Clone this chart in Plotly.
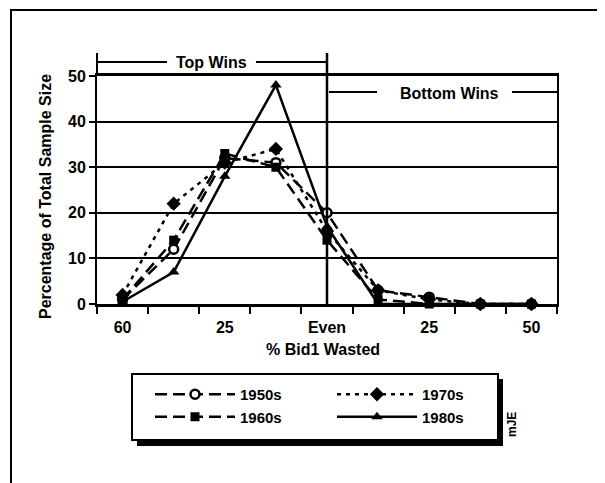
import plotly.graph_objects as go

# ---- data ----
categories = ["60", "", "25", "", "Even", "", "25", "", "50"]
label_positions = [0, 2, 4, 6, 8]
tick_labels = ["60", "25", "Even", "25", "50"]

s1950 = [1, 12, 32, 31, 20, 3, 1.5, 0, 0]
s1960 = [1, 14, 33, 30, 14, 1, 0, 0, 0]
s1970 = [2, 22, 31, 34, 16, 3, 1, 0, 0]
s1980 = [0.5, 7, 28, 48, 17, 0, 0, 0, 0]

y_ticks = [0, 10, 20, 30, 40, 50]

FONT = "Liberation Sans, Arial, sans-serif"
x_idx = list(range(len(categories)))

# page geometry (the page body adds an 8px offset to the figure)
OFF = 8
W, H = 605, 483
L, R, T, B = 97, 557, 76, 304   # plot area in page pixels


def px(x):
    return (x - L) / (R - L)


def py(y):
    return (B - y) / (B - T)


fig = go.Figure()

series = [
    ("1950s", s1950, dict(symbol="circle", size=9, color="white", line=dict(color="black", width=2.5)), "12px,6px", "legend"),
    ("1960s", s1960, dict(symbol="square", size=9, color="black"), "12px,6px", "legend"),
    ("1970s", s1970, dict(symbol="diamond", size=11, color="black"), "4px,5px", "legend2"),
    ("1980s", s1980, dict(symbol="triangle-up", size=10, color="black"), "solid", "legend2"),
]
for name, vals, marker, dash, leg in series:
    fig.add_trace(go.Scatter(
        x=x_idx, y=vals, name=name, mode="lines+markers",
        line=dict(color="black", width=2.5, dash=dash),
        marker=marker, cliponaxis=False, legend=leg,
    ))

shapes = [
    # outer frame
    dict(type="rect", xref="paper", yref="paper", x0=px(11), x1=px(600), y0=py(500), y1=py(10),
         line=dict(color="black", width=2), fillcolor="rgba(0,0,0,0)", layer="below"),
    # legend shadow and box
    dict(type="rect", xref="paper", yref="paper", x0=px(137), x1=px(503), y0=py(446), y1=py(379),
         line=dict(color="black", width=0), fillcolor="black", layer="below"),
    dict(type="rect", xref="paper", yref="paper", x0=px(132), x1=px(498), y0=py(440), y1=py(374),
         line=dict(color="black", width=2), fillcolor="white", layer="below"),
    # Even vertical line (extends above plot for bracket)
    dict(type="line", xref="x", yref="paper", x0=4, x1=4, y0=0, y1=py(53),
         line=dict(color="black", width=2.5)),
    # left bracket end (y axis extension)
    dict(type="line", xref="paper", yref="paper", x0=0, x1=0, y0=1, y1=py(53),
         line=dict(color="black", width=2)),
    # Top Wins bracket lines
    dict(type="line", xref="paper", yref="paper", x0=0, x1=px(167), y0=py(62), y1=py(62),
         line=dict(color="black", width=2)),
    dict(type="line", xref="paper", yref="paper", x0=px(256), x1=px(328), y0=py(62), y1=py(62),
         line=dict(color="black", width=2)),
    # Bottom Wins bracket lines
    dict(type="line", xref="paper", yref="paper", x0=px(329), x1=px(377), y0=py(92), y1=py(92),
         line=dict(color="black", width=2)),
    dict(type="line", xref="paper", yref="paper", x0=px(512), x1=1, y0=py(92), y1=py(92),
         line=dict(color="black", width=2)),
]


def ann(text, x, y, size=16, angle=0):
    return dict(text=text, xref="paper", yref="paper", x=px(x), y=py(y),
                xanchor="center", yanchor="middle", textangle=angle, showarrow=False,
                font=dict(size=size, family=FONT, color="black", weight="bold"))


annotations = [
    ann("Top Wins", 211, 62),
    ann("Bottom Wins", 449, 93),
    ann("Percentage of Total Sample Size", 45, 197, angle=-90),
    ann("% Bid1 Wasted", 323, 349),
    ann("mJE", 512, 425, size=12, angle=-90),
]

legend_common = dict(
    orientation="v", xanchor="left", yanchor="top",
    bgcolor="rgba(0,0,0,0)", borderwidth=0, itemwidth=80,
    traceorder="normal",
    font=dict(size=15, family=FONT, color="black", weight="bold"),
)

fig.update_layout(
    width=W, height=H,
    margin=dict(l=L - OFF, r=W - (R - OFF), t=T - OFF, b=H - (B - OFF)),
    paper_bgcolor="white", plot_bgcolor="white",
    font=dict(family=FONT, color="black", size=16),
    showlegend=True,
    legend=dict(x=px(150), y=py(378), **legend_common),
    legend2=dict(x=px(332), y=py(378), **legend_common),
    xaxis=dict(
        range=[-0.5, 8.5], tickmode="array", tickvals=label_positions,
        ticktext=tick_labels, ticks="",
        ticklabelstandoff=7,
        showgrid=False, zeroline=False, showline=True, linecolor="black",
        linewidth=3, mirror=True,
        tickfont=dict(size=16, family=FONT, color="black", weight="bold"),
        minor=dict(ticks="outside", ticklen=7, tickwidth=2, tickcolor="black",
                   tick0=-0.5, dtick=1, showgrid=False),
    ),
    yaxis=dict(
        range=[0, 50], tickmode="array", tickvals=y_ticks,
        ticks="outside", ticklen=6, tickwidth=2, tickcolor="black",
        showgrid=True, gridcolor="black", gridwidth=2, zeroline=False,
        showline=True, linecolor="black", linewidth=2, mirror=True,
        tickfont=dict(size=16, family=FONT, color="black", weight="bold"),
    ),
    shapes=shapes, annotations=annotations,
)

fig.write_html("out.html")
